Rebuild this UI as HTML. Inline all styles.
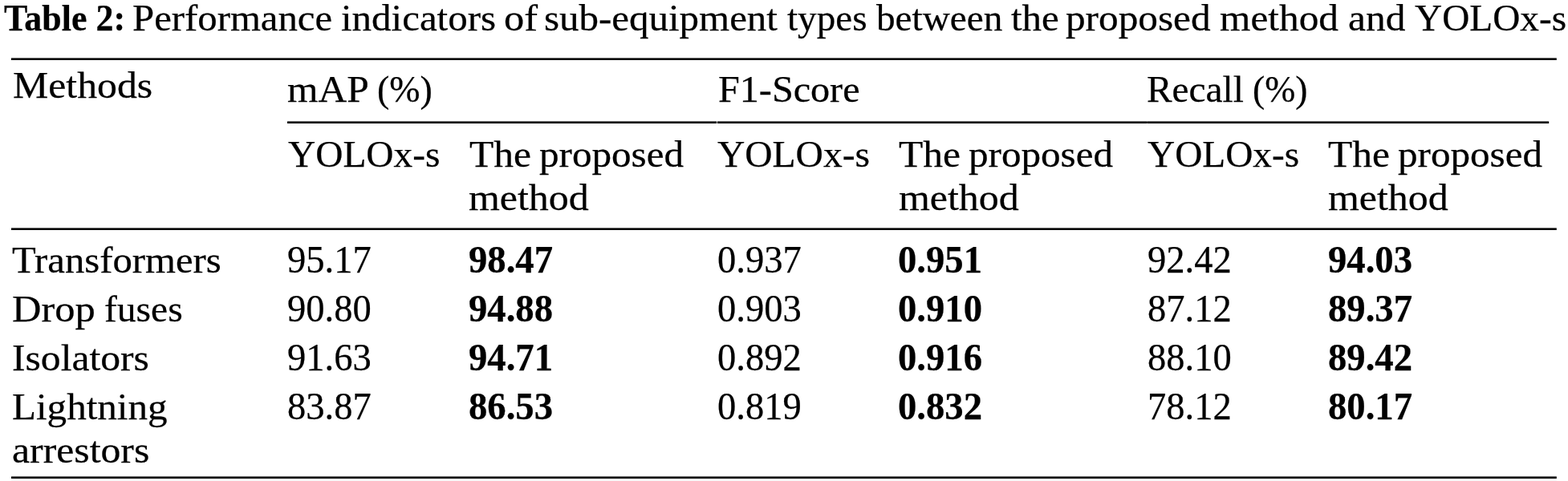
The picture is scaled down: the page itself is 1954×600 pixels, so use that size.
<!DOCTYPE html>
<html lang="en">
<head>
<meta charset="utf-8">
<title>Table 2</title>
<style>
html,body{margin:0;padding:0;background:#fff;}
body{width:1954px;height:600px;position:relative;overflow:hidden;font-family:"Liberation Serif","Times New Roman",serif;font-size:46.2px;color:#000;}
.t{-webkit-text-stroke:0.25px #000;position:absolute;white-space:pre;line-height:61px;transform-origin:0 0;display:block;}
.b{font-weight:bold;}
.n{font-size:47.6px;line-height:62px;}
.rules{position:absolute;left:0;top:0;display:block;}
</style>
</head>
<body>

<div class="caption">
<span class="t b" style="left:4.50px;top:-8px;transform:scaleX(0.9516)">Table 2:</span>
<span class="t" style="left:165.14px;top:-8px;transform:scaleX(1.0560)">Performance</span>
<span class="t" style="left:425.14px;top:-8px;transform:scaleX(1.0600)">indicators</span>
<span class="t" style="left:628.42px;top:-8px;transform:scaleX(1.0919)">of</span>
<span class="t" style="left:677.88px;top:-8px;transform:scaleX(1.0599)">sub-equipment</span>
<span class="t" style="left:980.80px;top:-8px;transform:scaleX(1.0208)">types</span>
<span class="t" style="left:1091.70px;top:-8px;transform:scaleX(1.0222)">between</span>
<span class="t" style="left:1260.40px;top:-8px;transform:scaleX(1.0600)">the</span>
<span class="t" style="left:1328.33px;top:-8px;transform:scaleX(1.0661)">proposed</span>
<span class="t" style="left:1519.53px;top:-8px;transform:scaleX(1.0686)">method</span>
<span class="t" style="left:1679.83px;top:-8px;transform:scaleX(1.0708)">and</span>
<span class="t" style="left:1762.80px;top:-8px;transform:scaleX(1.0235)">YOLOx-s</span>
</div>
<div class="table">
<svg class="rules" width="1954" height="600" viewBox="0 0 1954 600">
<rect x="13.9" y="72.4" width="1925.9" height="2.6" fill="#000"/>
<rect x="358" y="151.4" width="535.1" height="2.6" fill="#000"/>
<rect x="893.9" y="151.4" width="535.5" height="2.6" fill="#000"/>
<rect x="1429.4" y="151.4" width="500.8" height="2.6" fill="#000"/>
<rect x="14" y="284.4" width="1925.8" height="2.6" fill="#000"/>
<rect x="14" y="594.4" width="1925.8" height="2.6" fill="#000"/>
</svg>
<div class="thead">
<span class="t" style="left:15.92px;top:76px;transform:scaleX(1.0774)">Methods</span>
<span class="t" style="left:358.43px;top:81px;transform:scaleX(1.0707)">mAP</span>
<span class="t" style="left:470.01px;top:81px;transform:scaleX(0.9938)">(%)</span>
<span class="t" style="left:894.96px;top:81px;transform:scaleX(1.0425)">F1-Score</span>
<span class="t" style="left:1429.38px;top:81px;transform:scaleX(1.0250)">Recall</span>
<span class="t" style="left:1561.02px;top:81px;transform:scaleX(0.9892)">(%)</span>
<span class="t" style="left:358.90px;top:162px;transform:scaleX(1.0251)">YOLOx-s</span>
<span class="t" style="left:584.93px;top:162px;transform:scaleX(1.0725)">The</span>
<span class="t" style="left:671.54px;top:162px;transform:scaleX(1.0631)">proposed</span>
<span class="t" style="left:584.42px;top:216px;transform:scaleX(1.0810)">method</span>
<span class="t" style="left:893.80px;top:162px;transform:scaleX(1.0284)">YOLOx-s</span>
<span class="t" style="left:1120.23px;top:162px;transform:scaleX(1.0725)">The</span>
<span class="t" style="left:1206.84px;top:162px;transform:scaleX(1.0631)">proposed</span>
<span class="t" style="left:1119.72px;top:216px;transform:scaleX(1.0810)">method</span>
<span class="t" style="left:1429.60px;top:162px;transform:scaleX(1.0240)">YOLOx-s</span>
<span class="t" style="left:1655.33px;top:162px;transform:scaleX(1.0725)">The</span>
<span class="t" style="left:1741.94px;top:162px;transform:scaleX(1.0631)">proposed</span>
<span class="t" style="left:1654.82px;top:216px;transform:scaleX(1.0810)">method</span>
</div><div class="tbody">
<span class="t" style="left:14.95px;top:294px;transform:scaleX(1.0547)">Transformers</span>
<span class="t n" style="left:358.02px;top:293px;transform:scaleX(0.9778)">95.17</span>
<span class="t b n" style="left:584.22px;top:293px;transform:scaleX(0.9804)">98.47</span>
<span class="t n" style="left:893.64px;top:293px;transform:scaleX(0.9778)">0.937</span>
<span class="t b n" style="left:1119.04px;top:293px;transform:scaleX(0.9804)">0.951</span>
<span class="t n" style="left:1429.52px;top:293px;transform:scaleX(0.9778)">92.42</span>
<span class="t b n" style="left:1654.62px;top:293px;transform:scaleX(0.9804)">94.03</span>
<span class="t" style="left:15.31px;top:355px;transform:scaleX(1.0935)">Drop</span>
<span class="t" style="left:129.97px;top:355px;transform:scaleX(1.0283)">fuses</span>
<span class="t n" style="left:358.02px;top:354px;transform:scaleX(0.9778)">90.80</span>
<span class="t b n" style="left:584.22px;top:354px;transform:scaleX(0.9804)">94.88</span>
<span class="t n" style="left:893.64px;top:354px;transform:scaleX(0.9778)">0.903</span>
<span class="t b n" style="left:1119.04px;top:354px;transform:scaleX(0.9804)">0.910</span>
<span class="t n" style="left:1429.52px;top:354px;transform:scaleX(0.9778)">87.12</span>
<span class="t b n" style="left:1654.62px;top:354px;transform:scaleX(0.9804)">89.37</span>
<span class="t" style="left:14.93px;top:416px;transform:scaleX(1.0744)">Isolators</span>
<span class="t n" style="left:358.02px;top:415px;transform:scaleX(0.9778)">91.63</span>
<span class="t b n" style="left:584.22px;top:415px;transform:scaleX(0.9804)">94.71</span>
<span class="t n" style="left:893.64px;top:415px;transform:scaleX(0.9778)">0.892</span>
<span class="t b n" style="left:1119.04px;top:415px;transform:scaleX(0.9804)">0.916</span>
<span class="t n" style="left:1429.52px;top:415px;transform:scaleX(0.9778)">88.10</span>
<span class="t b n" style="left:1654.62px;top:415px;transform:scaleX(0.9804)">89.42</span>
<span class="t" style="left:15.34px;top:477px;transform:scaleX(1.0622)">Lightning</span>
<span class="t n" style="left:358.02px;top:476px;transform:scaleX(0.9778)">83.87</span>
<span class="t b n" style="left:584.22px;top:476px;transform:scaleX(0.9804)">86.53</span>
<span class="t n" style="left:893.64px;top:476px;transform:scaleX(0.9778)">0.819</span>
<span class="t b n" style="left:1119.04px;top:476px;transform:scaleX(0.9804)">0.832</span>
<span class="t n" style="left:1429.52px;top:476px;transform:scaleX(0.9778)">78.12</span>
<span class="t b n" style="left:1654.62px;top:476px;transform:scaleX(0.9804)">80.17</span>
<span class="t" style="left:15.22px;top:531px;transform:scaleX(1.0769)">arrestors</span>
</div></div>
</body>
</html>
